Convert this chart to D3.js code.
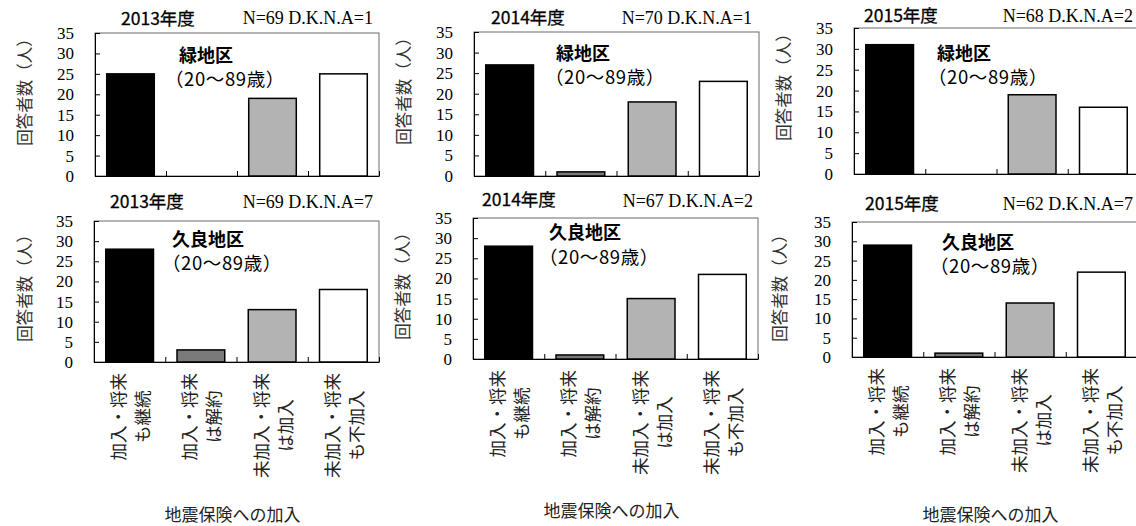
<!DOCTYPE html>
<html>
<head>
<meta charset="utf-8">
<script src="https://cdn.jsdelivr.net/npm/d3@7"></script>
<style>
  body { margin: 0; background: #fff; }
  svg { display: block; }
</style>
</head>
<body>
<svg id="chart" width="1136" height="526"></svg>
<script>
// Answer categories (two-line labels under each bar)
const categories = [
  ["加入・将来", "も継続"],
  ["加入・将来", "は解約"],
  ["未加入・将来", "は加入"],
  ["未加入・将来", "も不加入"]
];
const years = ["2013年度", "2014年度", "2015年度"];
const districts = ["緑地区", "久良地区"];
const ageRange = "（20〜89歳）";

// Respondent counts per year, one value per category
const midoriCounts = [
  [25, 0, 19, 25],
  [27, 1, 18, 23],
  [31, 0, 19, 16]
];
const kuraCounts = [
  [28, 3, 13, 18],
  [28, 1, 15, 21],
  [29, 1, 14, 22]
];
const midoriN = [69, 70, 68];
const midoriDKNA = [1, 1, 2];
const kuraN = [69, 67, 62];
const kuraDKNA = [7, 2, 7];

const yTicks = [0, 5, 10, 15, 20, 25, 30, 35];
const yTitle = "回答者数（人）";
const xTitle = "地震保険への加入";

const barFills = ["#000000", "#7a7a7a", "#b3b3b3", "#ffffff"];

// Panel frames and text anchors
const panels = [
  { d: 0, yr: 0, left: 95, top: 33, bottom: 176, right: 379, yearX: 121, yearY: 25, nX: 373, nY: 24, regX: 180, regY: 62, ageX: 176, ageY: 86, ytX: 24, ytY: 88 },
  { d: 0, yr: 1, left: 474, top: 32, bottom: 176, right: 759, yearX: 491, yearY: 24, nX: 752, nY: 24, regX: 557, regY: 60, ageX: 556, ageY: 84, ytX: 403, ytY: 87 },
  { d: 0, yr: 2, left: 854, top: 28, bottom: 174, right: 1139, yearX: 864, yearY: 22, nX: 1133, nY: 22, regX: 938, regY: 60, ageX: 939, ageY: 84, ytX: 783, ytY: 83 },
  { d: 1, yr: 0, left: 94, top: 221, bottom: 362, right: 379, yearX: 110, yearY: 208, nX: 373, nY: 208, regX: 173, regY: 246, ageX: 173, ageY: 270, ytX: 24, ytY: 284, xtY: 521 },
  { d: 1, yr: 1, left: 473, top: 218, bottom: 359, right: 758, yearX: 482, yearY: 206, nX: 753, nY: 207, regX: 550, regY: 239, ageX: 550, ageY: 264, ytX: 402, ytY: 282, xtY: 517 },
  { d: 1, yr: 2, left: 852, top: 222, bottom: 357, right: 1137, yearX: 865, yearY: 210, nX: 1133, nY: 210, regX: 943, regY: 249, ageX: 941, ageY: 273, ytX: 779, ytY: 284, xtY: 521 }
];

const JP = "'Noto Sans CJK JP', 'Noto Sans', sans-serif";
const SERIF = "'Liberation Serif', 'DejaVu Serif', serif";

const svg = d3.select("#chart");

panels.forEach(p => {
  const counts = p.d === 0 ? midoriCounts[p.yr] : kuraCounts[p.yr];
  const nVal = p.d === 0 ? midoriN[p.yr] : kuraN[p.yr];
  const dkVal = p.d === 0 ? midoriDKNA[p.yr] : kuraDKNA[p.yr];

  const y = d3.scaleLinear().domain([0, 35]).range([p.bottom, p.top]);
  const x = d3.scaleBand().domain(d3.range(categories.length))
    .range([p.left, p.right]).paddingInner(0.33).paddingOuter(0.165);
  const xEdge = d3.scaleLinear().domain([0, categories.length]).range([p.left, p.right]);

  const g = svg.append("g");

  // plot area border
  g.append("rect")
    .attr("x", p.left).attr("y", p.top)
    .attr("width", p.right - p.left).attr("height", p.bottom - p.top)
    .attr("fill", "none").attr("stroke", "#6a6a6a").attr("stroke-width", 1);

  // bars
  g.selectAll("rect.bar")
    .data(counts.map((v, i) => ({ v, i })).filter(d => d.v > 0))
    .join("rect")
    .attr("class", "bar")
    .attr("x", d => x(d.i))
    .attr("y", d => y(d.v))
    .attr("width", x.bandwidth())
    .attr("height", d => y(0) - y(d.v))
    .attr("fill", d => barFills[d.i])
    .attr("stroke", "#000")
    .attr("stroke-width", 1.5);

  // value axis with inward ticks
  const ya = g.append("g")
    .attr("transform", `translate(${p.left},0)`)
    .call(d3.axisLeft(y).tickValues(yTicks).tickSizeInner(-5).tickSizeOuter(0).tickPadding(21));
  ya.select(".domain").attr("stroke", "#000");
  ya.selectAll(".tick line").attr("stroke", "#000");
  ya.selectAll(".tick text")
    .attr("font-family", SERIF).attr("font-size", 17).attr("fill", "#000");

  // category axis with inward ticks at category boundaries
  const xa = g.append("g")
    .attr("transform", `translate(0,${p.bottom})`)
    .call(d3.axisBottom(xEdge).tickValues(d3.range(categories.length + 1))
      .tickSizeInner(-5).tickSizeOuter(0).tickFormat(""));
  xa.select(".domain").attr("stroke", "#000");
  xa.selectAll(".tick line").attr("stroke", "#000");

  // year heading and sample size
  g.append("text")
    .attr("x", p.yearX).attr("y", p.yearY)
    .attr("font-family", JP).attr("font-size", 17.5).attr("fill", "#000")
    .attr("stroke", "#000").attr("stroke-width", 0.3)
    .text(years[p.yr]);
  g.append("text")
    .attr("x", p.nX).attr("y", p.nY)
    .attr("text-anchor", "end")
    .attr("font-family", SERIF).attr("font-size", 18).attr("fill", "#000")
    .text(`N=${nVal} D.K.N.A=${dkVal}`);

  // district and age band
  g.append("text")
    .attr("x", p.regX - 1).attr("y", p.regY)
    .attr("font-family", JP).attr("font-size", 18).attr("font-weight", "bold").attr("fill", "#000")
    .text(districts[p.d]);
  g.append("text")
    .attr("x", p.ageX - 11).attr("y", p.ageY)
    .attr("font-family", JP).attr("font-size", 18.5).attr("fill", "#000")
    .attr("letter-spacing", 0.6)
    .text(ageRange);

  // value axis title
  g.append("text")
    .attr("transform", `translate(${p.ytX},${p.ytY}) rotate(-90)`)
    .attr("text-anchor", "middle").attr("dominant-baseline", "central")
    .attr("font-family", JP).attr("font-size", 16.5).attr("fill", "#333")
    .text(yTitle);

  // category labels and axis title on the lower row
  if (p.d === 1) {
    categories.forEach((lines, i) => {
      const cx = x(i) + x.bandwidth() / 2;
      const lg = g.append("g");
      const texts = lines.map((t, j) => lg.append("text")
        .attr("text-anchor", "middle").attr("dominant-baseline", "central")
        .attr("font-family", JP).attr("font-size", 17.5).attr("fill", "#222")
        .text(t));
      const maxLen = d3.max(texts, t => t.node().getComputedTextLength());
      const cy = p.bottom + 11 + maxLen / 2;
      texts.forEach((t, j) => {
        const lx = cx + (j - (lines.length - 1) / 2) * 24;
        t.attr("transform", `translate(${lx},${cy}) rotate(-90)`);
      });
    });
    g.append("text")
      .attr("x", (p.left + p.right) / 2 - 4).attr("y", p.xtY)
      .attr("text-anchor", "middle")
      .attr("font-family", JP).attr("font-size", 17).attr("fill", "#222")
      .text(xTitle);
  }
});
</script>
</body>
</html>
